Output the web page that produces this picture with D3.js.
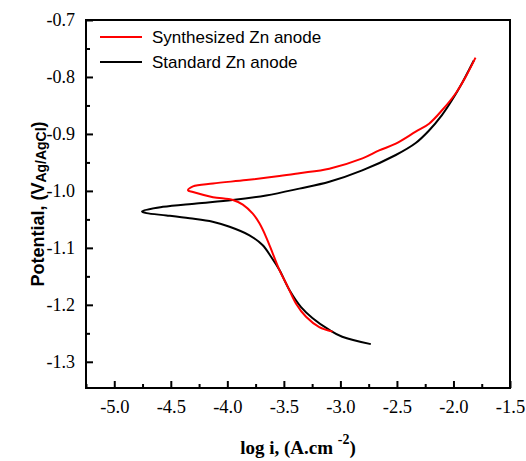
<!DOCTYPE html>
<html>
<head>
<meta charset="utf-8">
<script src="https://cdn.jsdelivr.net/npm/d3@7"></script>
<style>
  html, body { margin: 0; padding: 0; background: #fff; }
  svg { display: block; }
</style>
</head>
<body>
<div id="chart"></div>
<script>
// Tafel curves: [log i, potential]
const synthLogI = [-3.069, -3.187, -3.304, -3.392, -3.466, -3.539, -3.598, -3.657, -3.716, -3.775, -3.863, -3.951, -4.127, -4.304, -4.348,
  -4.304, -4.127, -3.833, -3.539, -3.363, -3.098, -2.805, -2.657, -2.510, -2.334, -2.216, -2.099, -1.981, -1.893, -1.805]
const synthE = [-1.247, -1.239, -1.221, -1.198, -1.168, -1.139, -1.110, -1.081, -1.057, -1.040, -1.024, -1.016, -1.011, -1.002, -0.999,
  -0.992, -0.987, -0.981, -0.974, -0.969, -0.961, -0.943, -0.929, -0.917, -0.896, -0.882, -0.858, -0.829, -0.800, -0.766]

const stdLogI = [-2.731, -2.984, -3.098, -3.248, -3.348, -3.451, -3.539, -3.612, -3.689, -3.804, -3.980, -4.130, -4.333, -4.538, -4.715, -4.754,
  -4.571, -4.274, -3.954, -3.657, -3.363, -3.098, -2.807, -2.510, -2.334, -2.216, -2.102, -2.014, -1.925, -1.864, -1.820]
const stdE = [-1.269, -1.256, -1.244, -1.223, -1.204, -1.174, -1.139, -1.116, -1.095, -1.078, -1.063, -1.054, -1.048, -1.043, -1.039, -1.036,
  -1.028, -1.022, -1.016, -1.008, -0.996, -0.984, -0.964, -0.937, -0.916, -0.894, -0.867, -0.841, -0.811, -0.788, -0.771]

const seriesNames = ['Synthesized Zn anode', 'Standard Zn anode']
const seriesColors = ['#ff0000', '#000000']
const xTicks = [-5.0, -4.5, -4.0, -3.5, -3.0, -2.5, -2.0, -1.5]
const yTicks = [-0.7, -0.8, -0.9, -1.0, -1.1, -1.2, -1.3]

const width = 526, height = 461
const margin = {top: 20, right: 16, bottom: 73, left: 86}
const innerW = width - margin.left - margin.right
const innerH = height - margin.top - margin.bottom

const svg = d3.select('#chart').append('svg')
  .attr('width', width)
  .attr('height', height)

const g = svg.append('g')
  .attr('transform', `translate(${margin.left},${margin.top})`)

const x = d3.scaleLinear().domain([-5.25, -1.5]).range([0, innerW])
const y = d3.scaleLinear().domain([-1.346, -0.7]).range([innerH, 0])

// minor ticks
const xMinor = d3.range(-5.25, -1.49, 0.25).filter(v => !xTicks.some(t => Math.abs(t - v) < 1e-6))
const yMinor = d3.range(-1.35, -0.69, 0.05).filter(v => v >= -1.346 && !yTicks.some(t => Math.abs(t - v) < 1e-6))

const serif = '"Liberation Serif", "Times New Roman", serif'
const sans = '"Liberation Sans", Arial, sans-serif'
const fmt = d => d.toFixed(1)   // plain hyphen, not unicode minus

function styleAxis(sel) {
  sel.attr('font-family', serif)
  sel.select('.domain').remove()
  sel.selectAll('line').attr('stroke', '#000').attr('stroke-width', 2)
  sel.selectAll('text').attr('fill', '#000')
}

g.append('g')
  .attr('transform', `translate(0,${innerH})`)
  .call(d3.axisBottom(x).tickValues(xMinor).tickSize(-4).tickFormat(''))
  .call(styleAxis)

g.append('g')
  .attr('transform', `translate(0,${innerH})`)
  .call(d3.axisBottom(x).tickValues(xTicks).tickSize(-7).tickPadding(12).tickFormat(fmt))
  .call(styleAxis)
  .call(s => s.selectAll('text').attr('font-family', serif).attr('font-size', 18.5).attr('dy', '0.71em'))

g.append('g')
  .call(d3.axisLeft(y).tickValues(yMinor).tickSize(-4).tickFormat(''))
  .call(styleAxis)

g.append('g')
  .call(d3.axisLeft(y).tickValues(yTicks).tickSize(-7).tickPadding(11).tickFormat(fmt))
  .call(styleAxis)
  .call(s => s.selectAll('text').attr('font-family', serif).attr('font-size', 18))

// frame
g.append('rect')
  .attr('width', innerW)
  .attr('height', innerH)
  .attr('fill', 'none')
  .attr('stroke', '#000')
  .attr('stroke-width', 2)

const line = d3.line()
  .x(d => x(d[0]))
  .y(d => y(d[1]))
  .curve(d3.curveCatmullRom.alpha(0.5))

const series = [
  d3.zip(synthLogI, synthE),
  d3.zip(stdLogI, stdE)
]

// black drawn first, red on top
;[1, 0].forEach(i => {
  g.append('path')
    .datum(series[i])
    .attr('fill', 'none')
    .attr('stroke', seriesColors[i])
    .attr('stroke-width', 2)
    .attr('stroke-linejoin', 'round')
    .attr('d', line)
})

// legend
const legend = svg.append('g')
seriesNames.forEach((name, i) => {
  const ly = 37 + i * 25
  legend.append('line')
    .attr('x1', 100).attr('x2', 142)
    .attr('y1', ly).attr('y2', ly)
    .attr('stroke', seriesColors[i])
    .attr('stroke-width', 2)
  legend.append('text')
    .attr('x', 152).attr('y', ly + 6)
    .attr('font-family', sans)
    .attr('font-size', 17)
    .text(name)
})

// axis titles
const xt = svg.append('text')
  .attr('x', margin.left + innerW / 2)
  .attr('y', 454)
  .attr('text-anchor', 'middle')
  .attr('font-family', serif)
  .attr('font-weight', 'bold')
  .attr('font-size', 19)
xt.append('tspan').text('log i, (A.cm ')
xt.append('tspan').attr('font-size', 14).attr('dy', -10).text('-2')
xt.append('tspan').attr('dy', 10).text(')')

const yt = svg.append('text')
  .attr('transform', `translate(44,${margin.top + innerH / 2}) rotate(-90)`)
  .attr('text-anchor', 'middle')
  .attr('font-family', sans)
  .attr('font-weight', 'bold')
  .attr('font-size', 18)
yt.append('tspan').text('Potential, (V')
yt.append('tspan').attr('font-size', 14).attr('dy', 1.5).text('Ag/AgCl')
yt.append('tspan').attr('dy', -1.5).text(')')
</script>
</body>
</html>
